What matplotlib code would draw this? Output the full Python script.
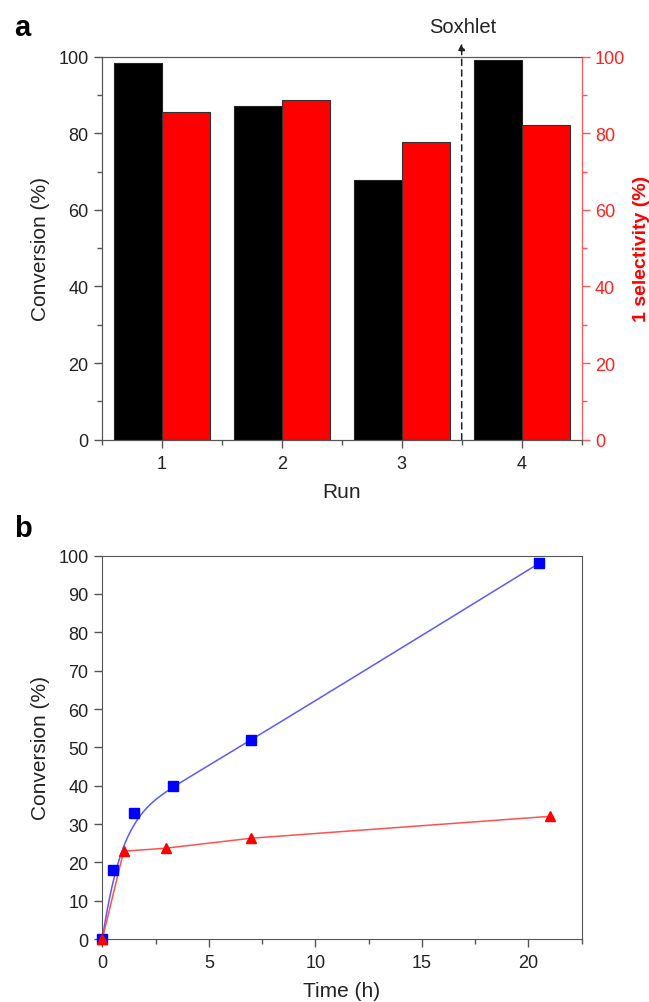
import numpy as np
import matplotlib
matplotlib.use("Agg")
import matplotlib.pyplot as plt
from matplotlib.ticker import MultipleLocator

plt.rcParams['font.family'] = ['Liberation Sans', 'DejaVu Sans']

# panel a: recycling runs
runs = [1, 2, 3, 4]
conversion_runs = [98.3, 87.0, 67.7, 99.2]
selectivity_runs = [85.6, 88.6, 77.8, 82.2]

# panel b: conversion vs time
time_blue = [0, 0.5, 1.5, 3.3, 7.0, 20.5]
conv_blue = [0, 18.1, 32.8, 39.9, 51.8, 98.0]
time_red = [0, 1.0, 3.0, 7.0, 21.0]
conv_red = [0, 22.9, 23.7, 26.3, 32.0]

spine_col = '#555555'
text_col = '#222222'


def bspline(px, py, k=3, n=400):
    # clamped uniform B-spline through the control points (Origin-like "B-Spline" line)
    P = np.column_stack([px, py])
    m = len(P)
    knots = np.concatenate([np.zeros(k), np.linspace(0, 1, m - k + 1), np.ones(k)])
    t = np.linspace(0, 1, n)

    def basis(i, p, t):
        if p == 0:
            b = ((knots[i] <= t) & (t < knots[i + 1])).astype(float)
            if knots[i + 1] == 1.0 and knots[i] < 1.0:
                b[t == 1.0] = 1.0
            return b
        out = np.zeros_like(t)
        d1 = knots[i + p] - knots[i]
        d2 = knots[i + p + 1] - knots[i + 1]
        if d1 > 0:
            out += (t - knots[i]) / d1 * basis(i, p - 1, t)
        if d2 > 0:
            out += (knots[i + p + 1] - t) / d2 * basis(i + 1, p - 1, t)
        return out

    B = np.array([basis(i, k, t) for i in range(m)])
    curve = B.T @ P
    return curve[:, 0], curve[:, 1]


fig = plt.figure(figsize=(6.49, 10.03), dpi=100)

# ---------------- panel a ----------------
ax1 = fig.add_axes([0.1567, 0.5606, 0.7396, 0.3819])
ax2 = ax1.twinx()
w = 0.4
x = np.array(runs, dtype=float)
ax1.bar(x - w / 2, conversion_runs, width=w, color='black', edgecolor='#222222', linewidth=0.8, zorder=2)
ax2.bar(x + w / 2, selectivity_runs, width=w, color='#ff0000', edgecolor='#333333', linewidth=0.8, zorder=2)

ax1.set_xlim(0.5, 4.5)
ax1.set_ylim(0, 100)
ax2.set_ylim(0, 100)
ax1.set_xticks(runs)
ax1.xaxis.set_minor_locator(MultipleLocator(0.5))
ax1.yaxis.set_major_locator(MultipleLocator(20))
ax1.yaxis.set_minor_locator(MultipleLocator(10))
ax2.yaxis.set_major_locator(MultipleLocator(20))
ax2.yaxis.set_minor_locator(MultipleLocator(10))

for s in ['left', 'bottom', 'top']:
    ax1.spines[s].set_color(spine_col)
    ax2.spines[s].set_color(spine_col)
ax2.spines['right'].set_color('#ff5555')
ax1.spines['right'].set_color('#ff5555')

ax1.tick_params(axis='both', which='major', direction='out', length=6, width=1,
                color=spine_col, labelsize=13, labelcolor=text_col)
ax1.tick_params(axis='both', which='minor', direction='out', length=3.5, width=1, color=spine_col)
ax1.tick_params(axis='x', which='major', pad=5)
ax2.tick_params(axis='y', which='major', direction='out', length=6, width=1,
                color='#ff5555', labelsize=13, labelcolor='#ff2020')
ax2.tick_params(axis='y', which='minor', direction='out', length=3.5, width=1, color='#ff5555')

ax1.set_xlabel('Run', fontsize=15, color=text_col, labelpad=7)
ax1.set_ylabel('Conversion (%)', fontsize=15, color=text_col, labelpad=6)
ax2.set_ylabel('1 selectivity (%)', fontsize=14, color='#ff0000', fontweight='bold', labelpad=6)

# Soxhlet dashed arrow
ax1.annotate('', xy=(3.5, 103.5), xytext=(3.5, 0), xycoords='data',
             arrowprops=dict(arrowstyle='-|>', linestyle=(0, (4, 3)), color='#222222',
                             lw=1.1, mutation_scale=10, shrinkA=0, shrinkB=0),
             annotation_clip=False, zorder=5)
ax1.text(3.51, 105.5, 'Soxhlet', ha='center', va='bottom', fontsize=14.5, color=text_col)

fig.text(0.021, 0.972, 'a', fontsize=21, fontweight='bold', ha='left', va='center')

# ---------------- panel b ----------------
ax3 = fig.add_axes([0.1567, 0.0628, 0.7396, 0.3822])
bx, by = bspline(time_blue, conv_blue)
ax3.plot(bx, by, color='#5a5aff', lw=1.1, zorder=2)
ax3.plot(time_blue, conv_blue, 's', color='#0000ff', ms=6.5, clip_on=False, zorder=3)
ax3.plot(time_red, conv_red, '-', color='#ff5050', lw=1.1, zorder=2)
ax3.plot(time_red, conv_red, '^', color='#ff0000', ms=7.5, clip_on=False, zorder=3)

ax3.set_xlim(-0.03, 22.5)
ax3.set_ylim(0, 100)
ax3.xaxis.set_major_locator(MultipleLocator(5))
ax3.xaxis.set_minor_locator(MultipleLocator(2.5))
ax3.yaxis.set_major_locator(MultipleLocator(10))
for s in ax3.spines.values():
    s.set_color(spine_col)
ax3.tick_params(axis='both', which='major', direction='out', length=6, width=1,
                color=spine_col, labelsize=13, labelcolor=text_col)
ax3.tick_params(axis='both', which='minor', direction='out', length=3.5, width=1, color=spine_col)
ax3.tick_params(axis='x', which='major', pad=5)
ax3.set_xlabel('Time (h)', fontsize=15, color=text_col, labelpad=7)
ax3.set_ylabel('Conversion (%)', fontsize=15, color=text_col, labelpad=6)

fig.text(0.022, 0.4726, 'b', fontsize=21, fontweight='bold', ha='left', va='center')

fig.savefig('out.png', dpi=100)
